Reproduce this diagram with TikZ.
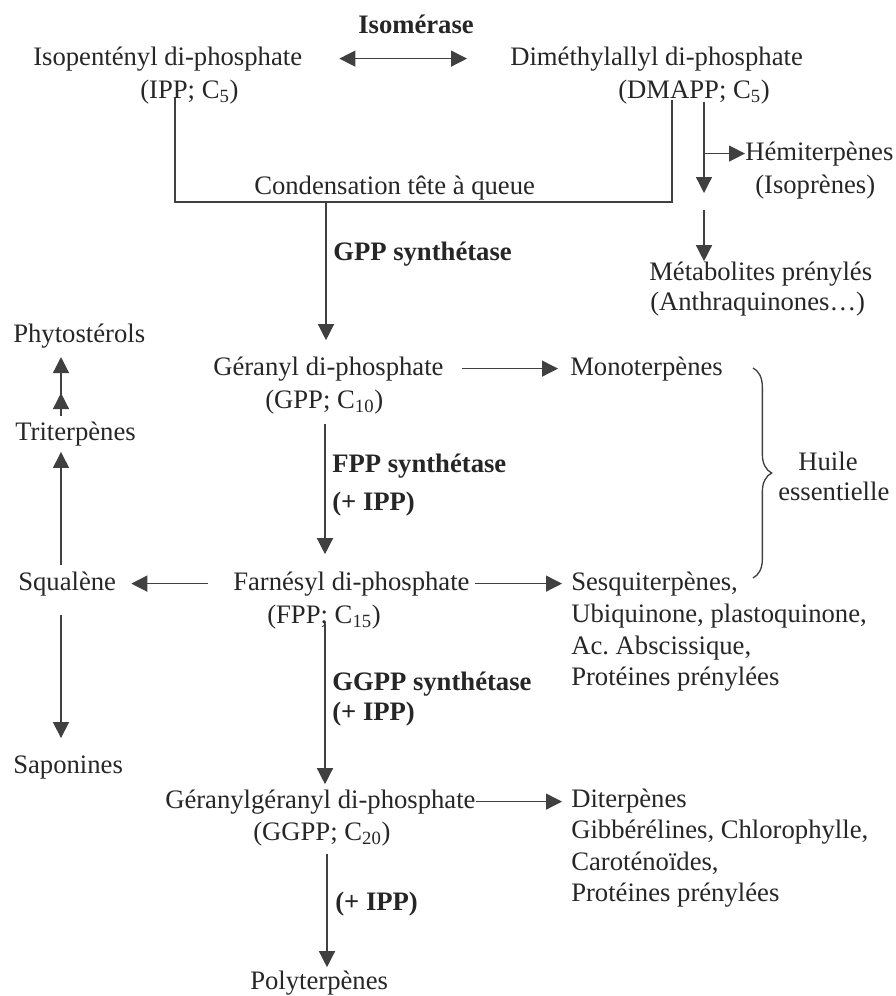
\documentclass[tikz,border=0pt]{standalone}
\usepackage{fontspec}
\setmainfont{Liberation Serif}
\usetikzlibrary{arrows.meta,calc,decorations.pathreplacing}

\begin{document}
\begin{tikzpicture}[x=0.75pt,y=-0.75pt,
		>={Triangle[length=12pt,width=12pt]},
		lbl/.style={inner sep=0pt, anchor=base west, text=black!85, font=\fontsize{20}{24}\selectfont},
		enz/.style={lbl, font=\fontsize{20}{24}\selectfont\bfseries},
		link/.style={draw=black!75, line width=1pt},
		flow/.style={link, ->}]
		\useasboundingbox (0,0) rectangle (896,996);
		% columns of the arrows
		\coordinate (leftX) at (61,0);
		\coordinate (axis) at (325,0);
		\coordinate (polyX) at (327,0);
		\coordinate (dmaR) at (704,0);
		\coordinate (condL) at (175,202);
		\coordinate (condM) at (326,202);
		\coordinate (condR) at (672,202);
		\coordinate (dmaStop) at (704,193);
		\coordinate (metaStart) at (704,210);
		%
		\node[enz] (iso) at (358,33) {Isomérase};
		\node[lbl] (ipp) at (33,65) {Isopentényl di-phosphate};
		\node[lbl] (ippf) at (140,98) {(IPP; C\textsubscript{5})};
		\node[lbl] (dma) at (510,65) {Diméthylallyl di-phosphate};
		\node[lbl] (dmaf) at (618,98) {(DMAPP; C\textsubscript{5})};
		\node[lbl] (cond) at (254,194) {Condensation tête à queue};
		\node[enz] (gppsyn) at (333,260) {GPP synthétase};
		\node[lbl] (hemi) at (745,160) {Hémiterpènes};
		\node[lbl] (isop) at (755,193) {(Isoprènes)};
		\node[lbl] (meta) at (649,280) {Métabolites prénylés};
		\node[lbl] (anth) at (650,310) {(Anthraquinones…)};
		%
		\node[lbl] (phyto) at (13,342) {Phytostérols};
		\node[lbl] (tri) at (15,440) {Triterpènes};
		\node[lbl] (gpp) at (213,375) {Géranyl di-phosphate};
		\node[lbl] (gppf) at (265,408) {(GPP; C\textsubscript{10})};
		\node[lbl] (mono) at (570,375) {Monoterpènes};
		\node[enz] (fppsyn) at (332,472) {FPP synthétase};
		\node[enz] (fppipp) at (332,510) {(+ IPP)};
		\node[lbl, anchor=base] (huile) at (828,470) {Huile};
		\node[lbl] (ess) at (778,500) {essentielle};
		%
		\node[lbl] (squal) at (18,590) {Squalène};
		\node[lbl] (fpp) at (233,590) {Farnésyl di-phosphate};
		\node[lbl] (fppf) at (267,623) {(FPP; C\textsubscript{15})};
		\node[lbl] (sesq) at (571,590) {Sesquiterpènes,};
		\node[lbl] (ubi) at (571,622) {Ubiquinone, plastoquinone,};
		\node[lbl] (absc) at (571,654) {Ac.\ Abscissique,};
		\node[lbl] (prot) at (571,685) {Protéines prénylées};
		\node[enz] (ggppsyn) at (332,690) {GGPP synthétase};
		\node[enz] (ggppipp) at (332,720) {(+ IPP)};
		\node[lbl] (sapo) at (13,773) {Saponines};
		%
		\node[lbl] (ggpp) at (165,808) {Géranylgéranyl di-phosphate};
		\node[lbl] (ggppf) at (253,840) {(GGPP; C\textsubscript{20})};
		\node[lbl] (dite) at (571,807) {Diterpènes};
		\node[lbl] (gibb) at (571,838) {Gibbérélines, Chlorophylle,};
		\node[lbl] (caro) at (571,870) {Caroténoïdes,};
		\node[lbl] (prot2) at (571,901) {Protéines prénylées};
		\node[enz] (polyipp) at (335,910) {(+ IPP)};
		\node[lbl] (poly) at (250,989) {Polyterpènes};
		%
		\draw[link, <->] ($(ipp.east)+(37,0)$) -- ($(dma.west |- ipp.east)+(-43,0)$);
		\draw[link] ($(ippf.south -| condL)+(0,-6)$) -- (condL) -- (condR) -- ($(dmaf.south -| condR)+(0,-4)$);
		\draw[flow] ($(dmaf.south -| dmaR)+(0,-2)$) -- (dmaStop);
		\draw[flow] (hemi.west -| dmaR) -- (hemi.west);
		\draw[flow] (metaStart) -- (meta.north -| dmaR);
		\draw[flow] (condM) -- ($(gpp.north -| condM)+(0,-16)$);
		\draw[flow] ($(gpp.east)+(18,0)$) -- ($(mono.west |- gpp.east)+(-12,0)$);
		\draw[flow] ($(gppf.south -| axis)+(0,10)$) -- ($(fpp.north -| axis)+(0,-17)$);
		\draw[flow] ($(tri.north -| leftX)+(0,-5)$) -- ($(phyto.south -| leftX)+(0,9)$);
		\draw[flow] ($(tri.north -| leftX)+(0,-5)$) -- ($(phyto.south -| leftX)+(0,45)$);
		\draw[flow] ($(squal.north -| leftX)+(0,-6)$) -- ($(tri.south -| leftX)+(0,6)$);
		\draw[flow] ($(fpp.west)+(-25,0)$) -- ($(squal.east |- fpp.west)+(15,0)$);
		\draw[flow] ($(fpp.east)+(5,0)$) -- ($(sesq.west |- fpp.east)+(-9,0)$);
		\draw[flow] ($(fppf.south -| axis)+(0,-5)$) -- ($(ggpp.north -| axis)+(0,-5)$);
		\draw[flow] ($(squal.south -| leftX)+(0,19)$) -- ($(sapo.north -| leftX)+(0,-17)$);
		\draw[flow] (ggpp.east) -- ($(dite.west |- ggpp.east)+(-9,0)$);
		\draw[flow] ($(ggppf.south -| polyX)+(0,8)$) -- ($(poly.north -| polyX)+(0,-3)$);
		\draw[link, decorate, decoration={brace, amplitude=14pt}] (753,368) -- (753,578);
	\end{tikzpicture}
\end{document}
